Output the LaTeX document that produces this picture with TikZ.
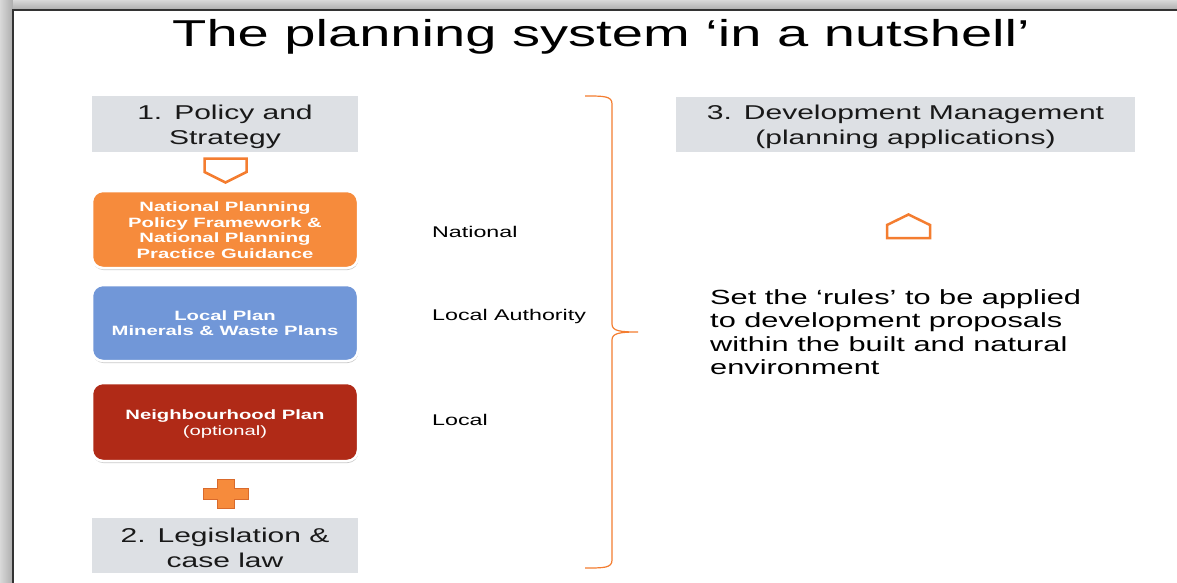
\documentclass[tikz,border=0pt]{standalone}
\usepackage{fontspec}
\setmainfont[FakeStretch=1.5]{Liberation Sans}
\usetikzlibrary{shadows}
\definecolor{boxgray}{HTML}{DDE0E4}
\definecolor{nporange}{HTML}{F68B3C}
\definecolor{lpblue}{HTML}{7197D8}
\definecolor{nhred}{HTML}{B02A17}
\definecolor{accent}{HTML}{F47D30}
\definecolor{plusedge}{HTML}{D96A2C}
\newcommand{\downstrut}[1]{\rule{0pt}{#1}}
\begin{document}
\begin{tikzpicture}[x=1pt,y=-1pt,
  headbox/.style={fill=boxgray, inner sep=0pt, align=center, text=black!90,
    font=\fontsize{20}{25}\selectfont},
  planbox/.style={fill=#1, draw=white, line width=2.5pt, rounded corners=11pt,
    minimum width=266pt, minimum height=77pt, inner sep=0pt, align=center,
    text=white, font=\fontsize{13.5}{15.5}\selectfont\bfseries,
    drop shadow={shadow xshift=0.5pt, shadow yshift=-2pt, opacity=0.35, fill=black!60}},
  levellabel/.style={anchor=base west, inner sep=0pt, font=\fontsize{15.5}{18}\selectfont},
  outlineshape/.style={draw=accent, line width=2.5pt, fill=white, line join=miter},
  bracepath/.style={draw=accent, line width=1.2pt},
]
\useasboundingbox (0,0) rectangle (1177,583);
\fill[white] (0,0) rectangle (1177,583);
% slide frame shadow
\shade[left color=gray!30, right color=gray!65] (0,0) rectangle (13,583);
\shade[top color=gray!30, bottom color=gray!65] (13,0) rectangle (1177,10);
\draw[black!80, line width=1.2pt] (13,583) -- (13,10) -- (1177,10);

% title
\node[anchor=base, inner sep=0pt, font=\fontsize{37.4}{40}\selectfont] (title) at (601,47)
  {The planning system ‘in a nutshell’};

% left column
\node[headbox, minimum width=266pt, minimum height=56pt] (policy) at (225,124)
  {\downstrut{20.5pt}1.\hspace{12pt}Policy and\\Strategy};
\draw[outlineshape] (204.5,158.5) -- (246.5,158.5) -- (246.5,172) -- (225.5,182.5) -- (204.5,172) -- cycle;

\node[planbox=nporange] (nppf) at (225,229.5)
  {\downstrut{11.5pt}National Planning\\Policy Framework \&\\National Planning\\Practice Guidance};
\node[planbox=lpblue, minimum height=76pt] (local) at (225,323)
  {Local Plan\\Minerals \& Waste Plans};
\node[planbox=nhred, minimum height=78pt] (neigh) at (225,422)
  {\downstrut{13.5pt}Neighbourhood Plan\\{\mdseries (optional)}};

\draw[fill=nporange, draw=plusedge, line width=1pt]
  (217,479) -- (234,479) -- (234,488) -- (248,488) -- (248,499) -- (234,499)
  -- (234,508) -- (217,508) -- (217,499) -- (203,499) -- (203,488) -- (217,488) -- cycle;

\node[headbox, minimum width=266pt, minimum height=55pt] (legis) at (225,545.5)
  {\downstrut{19pt}2.\hspace{12pt}Legislation \&\\case law};

% level labels
\node[levellabel] (lnat) at (432,237) {National};
\node[levellabel] (lla) at (432,320.5) {Local Authority};
\node[levellabel] (lloc) at (432,425) {Local};

% brace
\draw[bracepath] (585,96) .. controls (604,96) and (612,96) .. (612,104)
  -- (612,324) .. controls (612,331) and (620,332) .. (638,332)
  .. controls (620,332) and (612,333) .. (612,340)
  -- (612,560) .. controls (612,568) and (604,568) .. (585,568);

% right column
\node[headbox, minimum width=459pt, minimum height=55pt] (devman) at (905.5,124.5)
  {\downstrut{19.5pt}3.\hspace{12pt}Development Management\\(planning applications)};
\draw[outlineshape] (887,238) -- (887,225) -- (908.5,214.5) -- (930,225) -- (930,238) -- cycle;
\node[anchor=north west, align=left, inner sep=0pt, font=\fontsize{20.5}{23.6}\selectfont] (rules) at (710,289)
  {Set the ‘rules’ to be applied\\to development proposals\\within the built and natural\\environment};
\end{tikzpicture}
\end{document}
